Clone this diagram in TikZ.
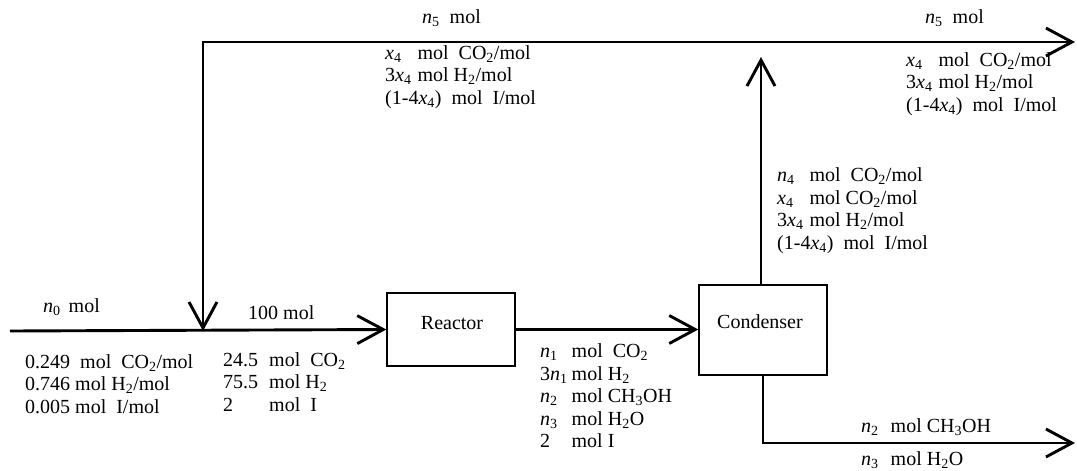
\documentclass[tikz,border=0pt]{standalone}
\usepackage{fontspec}
\setmainfont{Liberation Serif}
\usetikzlibrary{arrows.meta}
\newcommand{\sbs}[1]{\textsubscript{#1}}
\newcommand{\nsub}[1]{\textit{n}\textsubscript{#1}}
\newcommand{\xsub}[1]{\textit{x}\textsubscript{#1}}
\begin{document}
\begin{tikzpicture}[x=1pt,y=-1pt,
  flow/.style={line width=2.9pt,-{Straight Barb[length=26pt,width=28pt]}},
  dflow/.style={line width=2.9pt,{Straight Barb[length=26pt,width=28pt]}-{Straight Barb[length=26pt,width=28pt]}},
  unit/.style={draw,line width=1.4pt,inner sep=0pt},
  txt/.style={font=\fontsize{20}{22.5}\selectfont,inner sep=0pt,align=left,anchor=west},
  ctxt/.style={font=\fontsize{20}{22.5}\selectfont,inner sep=0pt},
]
\useasboundingbox (0,0) rectangle (1077,471);
% coordinates
\coordinate (feed) at (10,331);
\coordinate (mix) at (203,331);
\coordinate (tr) at (1075,42);
\coordinate (condtop) at (761,57);
\coordinate (botend) at (1075,443);
% units
\node[unit,minimum width=128pt,minimum height=73pt] (reactor) at (451,329.5) {};
\node[unit,minimum width=128pt,minimum height=90pt] (cond) at (763,330) {};
\node[ctxt] (reactorlbl) at (452,323) {Reactor};
\node[ctxt] (condlbl) at (760,322) {Condenser};
% streams
\draw[flow] (feed) -- (reactor.west);
\draw[dflow] (tr) -| (mix);
\draw[flow] (reactor.east) -- (reactor.east -| cond.west);
\draw[flow] (condtop |- cond.north) -- (condtop);
\draw[flow] (cond.south) |- (botend);
% labels
\node[txt] (n0) at (43,307) {\nsub{0}\hspace{0.4em}mol};
\node[txt] (hundred) at (248,313) {100 mol};
\node[txt] (feedfrac) at (25,384) {0.249\ \ mol\ \ CO\sbs{2}/mol\\0.746 mol H\sbs{2}/mol\\0.005 mol\ \ I/mol};
\node[txt] (feedmol) at (223,384) {\begin{tabular}{@{}l@{\hspace{11pt}}l@{}}24.5 & mol\ \ CO\sbs{2}\\75.5 & mol H\sbs{2}\\2 & mol\ \ I\end{tabular}};
\node[txt] (rout) at (540,398) {\begin{tabular}{@{}l@{\hspace{4pt}}l@{}}\nsub{1} & mol\ \ CO\sbs{2}\\3\nsub{1} & mol H\sbs{2}\\\nsub{2} & mol CH\sbs{3}OH\\\nsub{3} & mol H\sbs{2}O\\2 & mol I\end{tabular}};
\node[txt] (gas) at (777,211) {\begin{tabular}{@{}l@{\hspace{6pt}}l@{}}\nsub{4} & mol\ \ CO\sbs{2}/mol\\\xsub{4} & mol CO\sbs{2}/mol\\3\xsub{4} & mol H\sbs{2}/mol\\\multicolumn{2}{@{}l@{}}{(1-4\xsub{4})\ \ mol\ \ I/mol}\end{tabular}};
\node[txt] (n5a) at (422,18) {\nsub{5}\ \ mol};
\node[txt] (recyc) at (385,77) {\begin{tabular}{@{}l@{\hspace{6pt}}l@{}}\xsub{4} & mol\ \ CO\sbs{2}/mol\\3\xsub{4} & mol H\sbs{2}/mol\\\multicolumn{2}{@{}l@{}}{(1-4\xsub{4})\ \ mol\ \ I/mol}\end{tabular}};
\node[txt] (n5b) at (925,18) {\nsub{5}\ \ mol};
\node[txt] (purge) at (906,84) {\begin{tabular}{@{}l@{\hspace{6pt}}l@{}}\xsub{4} & mol\ \ CO\sbs{2}/mol\\3\xsub{4} & mol H\sbs{2}/mol\\\multicolumn{2}{@{}l@{}}{(1-4\xsub{4})\ \ mol\ \ I/mol}\end{tabular}};
\node[txt] (liq1) at (861,427) {\nsub{2}\hspace{0.6em}mol CH\sbs{3}OH};
\node[txt] (liq2) at (861,460) {\nsub{3}\hspace{0.6em}mol H\sbs{2}O};
\end{tikzpicture}
\end{document}
